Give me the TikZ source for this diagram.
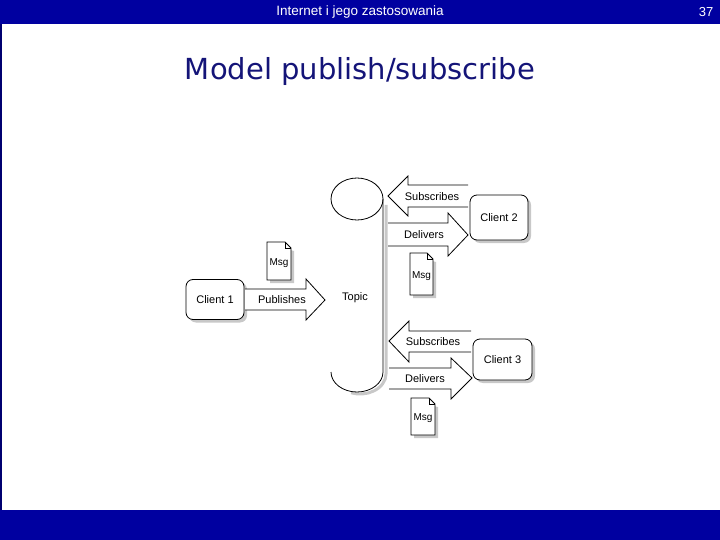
\documentclass[tikz,border=0pt]{standalone}
\usepackage{fontspec}
\setmainfont{Liberation Sans}
\newfontfamily\titlefont{DejaVu Sans}
\usetikzlibrary{shadows}
\definecolor{barblue}{RGB}{0,0,160}
\definecolor{titleblue}{RGB}{20,20,120}
\definecolor{shadecol}{RGB}{200,200,200}
\tikzset{
  lbl/.style={inner sep=0pt, font=\fontsize{11}{13}\selectfont},
  msglbl/.style={inner sep=0pt, font=\fontsize{10}{12}\selectfont},
  clientbox/.style={draw, line width=0.8pt, rounded corners=7pt, fill=white, lbl,
    drop shadow={shadow xshift=3pt, shadow yshift=-3pt, fill=shadecol, opacity=1}},
  blockarrow/.style={draw, line width=0.8pt, fill=white},
  doc/.style={draw, line width=0.8pt, fill=white},
  docshadow/.style={fill=shadecol},
}
\begin{document}
\begin{tikzpicture}[x=1pt,y=-1pt]
\useasboundingbox (0,0) rectangle (720,540);
% bars
\fill[barblue] (0,0) rectangle (720,24);
\fill[barblue] (0,510) rectangle (720,540);
\fill[barblue!70!black] (0,24) rectangle (1.5,510);
\node[text=white, font=\fontsize{13.5}{16}\selectfont] (hdr) at (360,12) {Internet i jego zastosowania};
\node[text=white, font=\fontsize{13}{15}\selectfont] (pg) at (706,12) {37};
\node[text=titleblue, font=\titlefont\fontsize{29}{34}\selectfont] (title) at (360,72) {Model publish/subscribe};

% Topic pipe
\draw[shadecol, line width=3pt] (386,205) -- (386,374) arc[start angle=0, end angle=110, x radius=26, y radius=20];
\draw[line width=0.8pt, fill=white] (357,199) ellipse [x radius=26, y radius=21];
\draw[line width=0.8pt] (383,199) -- (383,372) arc[start angle=0, end angle=180, x radius=26, y radius=20];
\node[lbl] (topic) at (355,298) {Topic};

% Clients
\node[clientbox, minimum width=58pt, minimum height=40pt] (c1) at (215,299.5) {Client 1};
\node[clientbox, minimum width=58pt, minimum height=45pt] (c2) at (499,217.5) {Client 2};
\node[clientbox, minimum width=59pt, minimum height=41pt] (c3) at (502.5,359.5) {Client 3};

% Publishes arrow (right)
\draw[blockarrow] (245,289) -- (306,289) -- (306,279) -- (325,300) -- (306,320) -- (306,310) -- (245,310);
\node[lbl] (pub) at (282,300) {Publishes};

% Subscribes top (left)
\draw[blockarrow] (468,185) -- (408,185) -- (408,176) -- (388,196) -- (408,216) -- (408,207) -- (468,207);
\node[lbl] (sub1) at (432,197) {Subscribes};
% Delivers top (right)
\draw[blockarrow] (388,223) -- (448,223) -- (448,213) -- (468,235) -- (448,256) -- (448,246) -- (388,246);
\node[lbl] (del1) at (424,235) {Delivers};

% Subscribes bottom (left)
\draw[blockarrow] (471,331) -- (409,331) -- (409,321) -- (389,341) -- (409,362) -- (409,352) -- (471,352);
\node[lbl] (sub2) at (433,342) {Subscribes};
% Delivers bottom (right)
\draw[blockarrow] (389,368) -- (451,368) -- (451,358) -- (472,378) -- (451,399) -- (451,389) -- (389,389);
\node[lbl] (del2) at (425,379) {Delivers};

% Documents
\foreach \n/\xa/\ya/\xb/\yb in {d1/267/242/291/280, d2/410/253/433/295, d3/411/398/435/435}{
  \fill[docshadow] (\xa+3,\ya+3) -- (\xb+3,\ya+9) -- (\xb+3,\yb+3) -- (\xa+3,\yb+3) -- cycle;
  \draw[doc] (\xa,\ya) -- (\xb-6,\ya) -- (\xb,\ya+6) -- (\xb,\yb) -- (\xa,\yb) -- cycle;
  \draw[line width=0.6pt] (\xb-6,\ya) -- (\xb-6,\ya+6) -- (\xb,\ya+6);
  \node[msglbl] (\n) at ({(\xa+\xb)/2},{(\ya+\yb)/2+2}) {Msg};
}
\end{tikzpicture}
\end{document}
